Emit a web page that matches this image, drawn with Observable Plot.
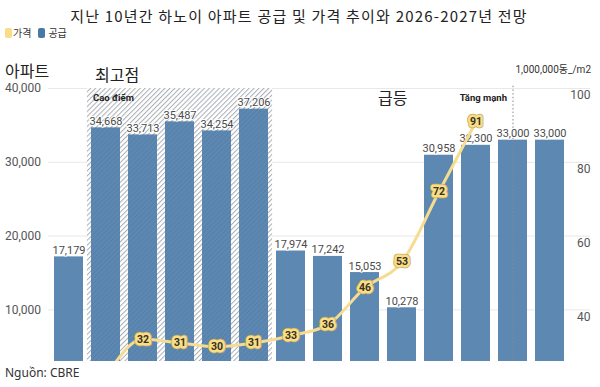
<!DOCTYPE html>
<html><head><meta charset="utf-8">
<script src="https://cdn.jsdelivr.net/npm/d3@7"></script>
<script src="https://cdn.jsdelivr.net/npm/@observablehq/plot@0.6"></script>
<style>
body{margin:0;background:#fff;font-family:Roboto,"Noto Sans CJK KR",sans-serif;}
#wrap{position:relative;width:600px;height:387px;overflow:hidden;}
.t{position:absolute;white-space:nowrap;line-height:1;}
.kr{font-family:"Noto Sans CJK KR",sans-serif;}
#chart{position:absolute;left:0;top:0;}
</style></head><body><div id="wrap">
<div id="chart"></div>
<div class="t kr" style="left:0;width:598px;text-align:center;top:8px;font-size:15px;color:#222;letter-spacing:1.2px;">지난 10년간 하노이 아파트 공급 및 가격 추이와 2026-2027년 전망</div>
<div class="t kr" style="left:5px;top:28px;font-size:10px;color:#333;display:flex;align-items:center;">
  <span style="display:inline-block;width:7px;height:10px;background:#f8dc87;border-radius:2px;margin-right:1px;"></span>가격
  <span style="display:inline-block;width:7px;height:10px;background:#4a78a6;border-radius:2px;margin:0 3px 0 7px;"></span>공급
</div>
<div class="t kr" style="left:5px;top:62px;font-size:16px;color:#222;">아파트</div>
<div class="t kr" style="left:95px;top:66px;font-size:16px;color:#222;">최고점</div>
<div class="t kr" style="left:378px;top:89px;font-size:16px;color:#222;">급등</div>
<div class="t" style="right:9px;top:64px;font-size:10px;color:#333;"><span>1,000,000</span><span class="kr">동</span>_/m2</div>
<div class="t" style="left:5px;top:367px;font-size:12px;color:#333;font-family:'Noto Sans',sans-serif;">Nguồn: CBRE</div>
</div>
<script>
const years = [2014,2015,2016,2017,2018,2019,2020,2021,2022,2023,2024,2025,2026,2027];
const supply = [17179,34668,33713,35487,34254,37206,17974,17242,15053,10278,30958,32300,33000,33000];
const priceYears = [2015,2016,2017,2018,2019,2020,2021,2022,2023,2024,2025];
const prices = [22,32,31,30,31,33,36,46,53,72,91];
const peakYears = [2015,2016,2017,2018,2019];
const forecastYear = 2026;
const leftTicks = [10000,20000,30000,40000];
const rightTicks = [40,60,80,100];

// price (1,000,000 dong/m2) shares the supply scale: price 40 <-> 10,000 units
const priceToY = p => (p - 20) * 500;

const bars = years.map((y,i)=>({year:y, supply:supply[i]}));
const pts = priceYears.map((y,i)=>({year:y, price:prices[i], v:priceToY(prices[i])}));
const yMin = 3000, yMax = 40000;

const svg = Plot.plot({
  width: 600, height: 387,
  marginTop: 88, marginBottom: 26, marginLeft: 49.5, marginRight: 31.5,
  style: {fontFamily: "Roboto, 'Noto Sans CJK KR', sans-serif", background: "transparent"},
  x: {type: "band", domain: years, paddingInner: 0.22, paddingOuter: 0.11, axis: null},
  y: {domain: [yMin, yMax], axis: null},
  marks: [
    Plot.ruleY(leftTicks, {stroke: "#e8e8e8", strokeWidth: 1, insetLeft: -1.5, insetRight: -21.5}),
    Plot.barY(peakYears, {x: d=>d, y1: yMin, y2: yMax, fill: "url(#hatch)", insetLeft: -4.1, insetRight: -4.1}),
    Plot.barY(bars, {x: "year", y: "supply", fill: "#5d88b1", clip: true}),
    Plot.barY(peakYears, {x: d=>d, y1: yMin, y2: yMax, fill: "url(#hatch2)", insetLeft: -4.1, insetRight: -4.1}),
    Plot.ruleX([forecastYear], {y1: yMin, y2: yMax + 450, stroke: "#888", strokeWidth: 1, strokeDasharray: "1.5,2.2"}),
    Plot.text(leftTicks, {y: d=>d, text: d=>d3.format(",")(d), frameAnchor: "left", textAnchor: "end", dx: -9, fontSize: 12, fill: "#555"}),
    Plot.text(rightTicks, {y: d=>priceToY(d), text: d=>String(d), frameAnchor: "right", textAnchor: "end", dx: 21.5, dy: 7, fontSize: 12, fill: "#555"}),
    Plot.text(bars, {x: "year", y: "supply", text: d=>d3.format(",")(d.supply), lineAnchor: "bottom", dy: -3, fontSize: 11, fill: "#4a4a4a", stroke: "white", strokeWidth: 2, paintOrder: "stroke"}),
    Plot.line(pts, {x: "year", y: "v", stroke: "#f6dc90", strokeWidth: 3, curve: "monotone-x", clip: true}),
    Plot.text(pts, {x: "year", y: "v", text: d=>String(d.price), fontSize: 10.5, fontWeight: 700, fill: "#c9a85a", stroke: "#c9a85a", strokeWidth: 6.5, strokeLinejoin: "round", paintOrder: "stroke", clip: true}),
    Plot.text(pts, {x: "year", y: "v", text: d=>String(d.price), fontSize: 10.5, fontWeight: 700, fill: "#f9de88", stroke: "#f9de88", strokeWidth: 5, strokeLinejoin: "round", paintOrder: "stroke", clip: true}),
    Plot.text(pts, {x: "year", y: "v", text: d=>String(d.price), fontSize: 10.5, fontWeight: 700, fill: "#3a3220", clip: true}),
    Plot.text(["Cao điểm"], {x: () => peakYears[0], y: yMax, text: d=>d, textAnchor: "start", dx: -13, dy: 9, fontSize: 9.5, fontWeight: 700, fill: "#222"}),
    Plot.text(["Tăng mạnh"], {x: () => forecastYear, y: yMax, text: d=>d, textAnchor: "end", dx: -6, dy: 9, fontSize: 9.5, fontWeight: 700, fill: "#222"})
  ]
});
const defs = d3.select(svg).insert("defs", ":first-child");
const p1 = defs.append("pattern").attr("id","hatch").attr("patternUnits","userSpaceOnUse")
  .attr("width",3.5).attr("height",3.5).attr("patternTransform","rotate(45)");
p1.append("rect").attr("width",3.5).attr("height",3.5).attr("fill","#fff");
p1.append("line").attr("x1",0.5).attr("y1",0).attr("x2",0.5).attr("y2",3.5).attr("stroke","#c2c2c2").attr("stroke-width",1);
const p2 = defs.append("pattern").attr("id","hatch2").attr("patternUnits","userSpaceOnUse")
  .attr("width",3.5).attr("height",3.5).attr("patternTransform","rotate(45)");
p2.append("line").attr("x1",0.5).attr("y1",0).attr("x2",0.5).attr("y2",3.5).attr("stroke","#2f5275").attr("stroke-width",1).attr("stroke-opacity",0.15);
document.getElementById("chart").appendChild(svg);
</script>
</body></html>
